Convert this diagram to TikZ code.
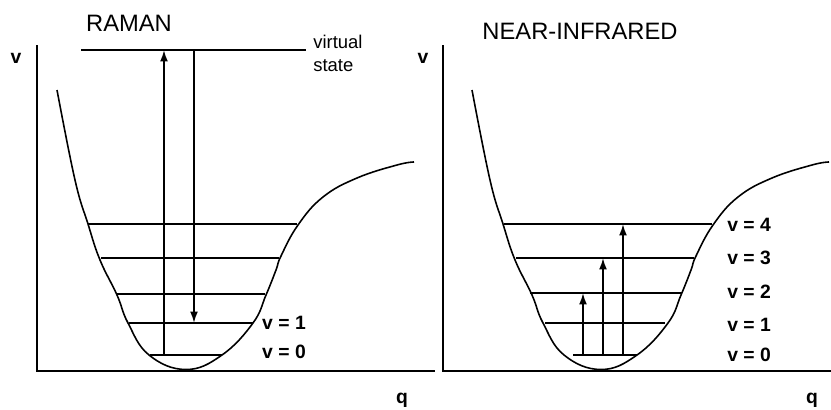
\documentclass[tikz,border=0pt]{standalone}
\usepackage{fontspec}
\setmainfont{Liberation Sans}
\usetikzlibrary{arrows.meta}

\begin{document}
\begin{tikzpicture}[x=0.02cm, y=-0.02cm, every node/.style={align=center, inner sep=0pt},
  title/.style={font=\fontsize{13.5}{16}\selectfont},
  small/.style={font=\fontsize{10.5}{13}\selectfont},
  vlabel/.style={font=\bfseries\fontsize{11}{12}\selectfont},
  axis/.style={line width=1.6pt},
  level/.style={line width=1.1pt},
  well/.style={line width=0.9pt},
  trans/.style={line width=1pt, -{Latex[length=6.5pt,width=4.5pt]}}]

\useasboundingbox (0,0) rectangle (831,409);

% Titles and axis labels
\node (raman) at (129,23) [title] {RAMAN};
\node (nir) at (580,31) [title] {NEAR-INFRARED};
\node (vLeft) at (16,58) [vlabel] {v};
\node (vRight) at (423,58) [vlabel] {v};
\node (qLeft) at (402,400) [vlabel] {q};
\node (qRight) at (812,400) [vlabel] {q};

% Axes
\coordinate (oLeft) at (37,371);
\coordinate (oRight) at (443,371);
\draw[axis] (37,45) -- (oLeft) -- (435,371);
\draw[axis] (443,45) -- (oRight) -- (831,371);

% Potential wells
\draw[well] plot[smooth, tension=0.7] coordinates {(57,90) (75,180) (88,224) (100,260) (117,295) (128,323) (149,355) (186,369.5) (222,355) (253,323) (266,295) (276,270) (281,256) (298,225) (323,197) (357,178) (397,165) (414,162)};
\begin{scope}[shift={(415,0)}]
\draw[well] plot[smooth, tension=0.7] coordinates {(57,90) (75,180) (88,224) (100,260) (117,295) (128,323) (149,355) (186,369.5) (222,355) (253,323) (266,295) (276,270) (281,256) (298,225) (323,197) (357,178) (397,165) (414,162)};
\end{scope}

% Raman levels
\draw[level] (81,50) -- (306,50);
\draw[level] (88,224) -- (297,224);
\draw[level] (101,258) -- (279,258);
\draw[level] (117,294) -- (265,294);
\draw[level] (129,323) -- (253,323);
\draw[level] (150,355) -- (222,355);
\node (virtual) at (313,53.5) [small, anchor=west, align=left] {virtual\\state};
\node (rv1) at (284,323) [vlabel] {v = 1};
\node (rv0) at (284,352) [vlabel] {v = 0};

% Near-infrared levels
\draw[level] (504,224) -- (712,224);
\draw[level] (516,258) -- (694,258);
\draw[level] (530,293) -- (682,293);
\draw[level] (545,323) -- (665,323);
\draw[level] (573,355) -- (637,355);
\node (nv4) at (749,225) [vlabel] {v = 4};
\node (nv3) at (749,258) [vlabel] {v = 3};
\node (nv2) at (749,292) [vlabel] {v = 2};
\node (nv1) at (749,325) [vlabel] {v = 1};
\node (nv0) at (749,355) [vlabel] {v = 0};

% Arrows
\coordinate (upLow) at (164,355);
\coordinate (upHigh) at (164,50);
\coordinate (downHigh) at (194,50);
\coordinate (downLow) at (194,323);
\draw[trans] (upLow) -- (upHigh);
\draw[trans] (downHigh) -- (downLow);

\coordinate (a0) at (583,355);
\coordinate (a2) at (583,293);
\coordinate (b0) at (603,355);
\coordinate (b3) at (603,258);
\coordinate (c0) at (623,355);
\coordinate (c4) at (623,224);
\draw[trans] (a0) -- (a2);
\draw[trans] (b0) -- (b3);
\draw[trans] (c0) -- (c4);

\end{tikzpicture}
\end{document}
